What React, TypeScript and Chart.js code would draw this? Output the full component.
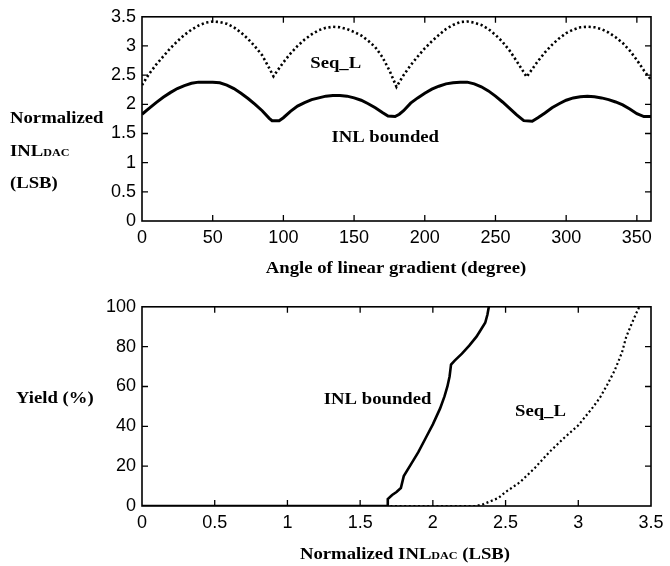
import React, { useEffect, useRef } from "react";
import { Chart, registerables } from "chart.js";

Chart.register(...registerables);

// ---------- Top chart: normalized INL vs angle of linear gradient ----------
const seqLAngles = [
  0, 5, 10, 15, 20, 25, 30, 35, 40, 45, 50, 55, 60, 65, 70, 75, 80, 85, 90, 93,
  95, 100, 105, 110, 115, 120, 125, 130, 135, 140, 145, 150, 155, 160, 165, 170, 175, 180,
  185, 190, 195, 200, 205, 210, 215, 220, 225, 230, 235, 240, 245, 250, 255, 260, 265, 270, 272,
  275, 280, 285, 290, 295, 300, 305, 310, 315, 320, 325, 330, 335, 340, 345, 350, 355, 360,
];
const seqLInl = [
  2.33, 2.52, 2.68, 2.82, 2.96, 3.08, 3.19, 3.28, 3.35, 3.4, 3.42, 3.41, 3.38, 3.32, 3.23, 3.12, 2.99, 2.84, 2.62, 2.48,
  2.55, 2.72, 2.87, 3.0, 3.11, 3.2, 3.27, 3.31, 3.33, 3.32, 3.29, 3.24, 3.18, 3.09, 2.98, 2.81, 2.58, 2.3,
  2.5, 2.67, 2.82, 2.96, 3.08, 3.19, 3.29, 3.36, 3.41, 3.42, 3.4, 3.36, 3.29, 3.19, 3.07, 2.92, 2.74, 2.55, 2.47,
  2.57, 2.74, 2.89, 3.02, 3.13, 3.22, 3.28, 3.32, 3.33, 3.32, 3.29, 3.23, 3.15, 3.05, 2.92, 2.76, 2.58, 2.42,
];
const boundedAngles = [
  0, 5, 10, 15, 20, 25, 30, 35, 40, 45, 50, 55, 60, 65, 70, 75, 80, 85, 90, 92, 97,
  100, 105, 110, 115, 120, 125, 130, 135, 140, 145, 150, 155, 160, 165, 170, 174, 179,
  182, 185, 190, 195, 200, 205, 210, 215, 220, 225, 230, 235, 240, 245, 250, 255, 260, 265, 270, 276,
  280, 285, 290, 295, 300, 305, 310, 315, 320, 325, 330, 335, 340, 345, 350, 355, 360,
];
const boundedInl = [
  1.83, 1.93, 2.03, 2.12, 2.2, 2.27, 2.32, 2.36, 2.38, 2.38, 2.38, 2.37, 2.33, 2.27, 2.19, 2.1, 2.0, 1.89, 1.76, 1.72, 1.72,
  1.77, 1.88, 1.97, 2.03, 2.08, 2.11, 2.14, 2.15, 2.15, 2.14, 2.11, 2.07, 2.01, 1.94, 1.86, 1.8, 1.79,
  1.83, 1.89, 2.02, 2.11, 2.19, 2.26, 2.31, 2.35, 2.37, 2.38, 2.38, 2.35, 2.3, 2.23, 2.14, 2.04, 1.93, 1.82, 1.72, 1.71,
  1.77, 1.85, 1.94, 2.01, 2.07, 2.11, 2.13, 2.14, 2.13, 2.11, 2.08, 2.04, 1.99, 1.92, 1.84, 1.79, 1.79,
];
const angleRange = [0, 360];
const angleStep = 50;
const inlRange = [0, 3.5];
const inlStep = 0.5;

// ---------- Bottom chart: yield vs normalized INL ----------
const boundedYieldInl = [
  0, 1.69, 1.69, 1.72, 1.75, 1.78, 1.8, 1.85, 1.9, 1.95, 2.0, 2.05, 2.08, 2.1, 2.115, 2.125,
  2.15, 2.2, 2.25, 2.3, 2.33, 2.36, 2.375, 2.385,
];
const boundedYield = [
  0, 0, 3.5, 5.5, 7, 9, 15, 21, 27, 34, 41, 49, 55, 60, 65, 71,
  73, 76.5, 80.5, 85, 88.5, 92, 96, 100,
];
const seqLYieldInl = [
  0, 2.3, 2.35, 2.4, 2.45, 2.5, 2.55, 2.6, 2.7, 2.8, 2.9, 3.0, 3.05, 3.1, 3.15, 3.2, 3.25, 3.3, 3.33, 3.37, 3.4, 3.42,
];
const seqLYield = [
  0, 0, 1, 2.5, 4, 7, 9.5, 12, 19, 27, 34, 40.5, 45, 49.5, 54.5, 61, 68, 77, 85, 92, 97, 100,
];
const yieldRange = [0, 100];
const yieldStep = 20;

// ---------- helpers ----------
const SERIF_B = (s: number) => `bold ${s}px 'Liberation Serif', 'Times New Roman', serif`;
const TICK_FONT = { family: "'Liberation Sans', Arial, sans-serif", size: 18 };
const TXT_SX = 1.1;

type Seg = { text: string; font: string };

function drawSegs(ctx: CanvasRenderingContext2D, segs: Seg[], x: number, y: number, align: "left" | "center") {
  ctx.save();
  ctx.fillStyle = "#000";
  ctx.textBaseline = "alphabetic";
  ctx.textAlign = "left";
  let w = 0;
  segs.forEach((s) => {
    ctx.font = s.font;
    w += ctx.measureText(s.text).width;
  });
  const start = align === "center" ? x - (w * TXT_SX) / 2 : x;
  ctx.translate(start, y);
  ctx.scale(TXT_SX, 1);
  let cx = 0;
  segs.forEach((s) => {
    ctx.font = s.font;
    ctx.fillText(s.text, cx, 0);
    cx += ctx.measureText(s.text).width;
  });
  ctx.restore();
}

const framePlugin = {
  id: "frameTicks",
  afterDraw(chart: any) {
    const { ctx, chartArea: a, scales } = chart;
    ctx.save();
    ctx.strokeStyle = "#000";
    ctx.lineWidth = 1.6;
    ctx.strokeRect(a.left, a.top, a.right - a.left, a.bottom - a.top);
    ctx.lineWidth = 1.3;
    const L = 6;
    const xs = scales.x;
    const ys = scales.y;
    ctx.beginPath();
    xs.ticks.forEach((t: any) => {
      if (t.value <= xs.min || t.value >= xs.max) return;
      const px = xs.getPixelForValue(t.value);
      ctx.moveTo(px, a.bottom);
      ctx.lineTo(px, a.bottom - L);
      ctx.moveTo(px, a.top);
      ctx.lineTo(px, a.top + L);
    });
    ys.ticks.forEach((t: any) => {
      if (t.value <= ys.min || t.value >= ys.max) return;
      const py = ys.getPixelForValue(t.value);
      ctx.moveTo(a.left, py);
      ctx.lineTo(a.left + L, py);
      ctx.moveTo(a.right, py);
      ctx.lineTo(a.right - L, py);
    });
    ctx.stroke();
    ctx.restore();
  },
};

const plainNum = (v: any) => String(Number(Number(v).toFixed(6)));

function makeScales(xr: number[], xstep: number, yr: number[], ystep: number, yWidth: number, xHeight: number) {
  return {
    x: {
      type: "linear",
      min: xr[0],
      max: xr[1],
      afterFit: (s: any) => {
        s.height = xHeight;
      },
      afterBuildTicks: (s: any) => {
        s.ticks = s.ticks.filter((t: any) => Math.abs(t.value / xstep - Math.round(t.value / xstep)) < 1e-6);
      },
      ticks: {
        stepSize: xstep,
        font: TICK_FONT,
        color: "#000",
        maxRotation: 0,
        padding: 6,
        includeBounds: false,
        callback: plainNum,
      },
      grid: { display: false, drawTicks: false },
      border: { display: false },
    },
    y: {
      type: "linear",
      min: yr[0],
      max: yr[1],
      afterFit: (s: any) => {
        s.width = yWidth;
      },
      ticks: { stepSize: ystep, font: TICK_FONT, color: "#000", padding: 6, callback: plainNum },
      grid: { display: false, drawTicks: false },
      border: { display: false },
    },
  };
}

const toPts = (xs: number[], ys: number[]) => xs.map((x, i) => ({ x, y: ys[i] }));

export default function App() {
  const topRef = useRef<HTMLCanvasElement>(null);
  const botRef = useRef<HTMLCanvasElement>(null);

  useEffect(() => {
    const topTexts = {
      id: "topTexts",
      afterDraw(chart: any) {
        const { ctx, scales } = chart;
        drawSegs(ctx, [{ text: "Normalized", font: SERIF_B(17) }], 10, 123, "left");
        drawSegs(
          ctx,
          [
            { text: "INL", font: SERIF_B(17) },
            { text: "DAC", font: SERIF_B(11) },
          ],
          10,
          156,
          "left"
        );
        drawSegs(ctx, [{ text: "(LSB)", font: SERIF_B(17) }], 10, 188, "left");
        drawSegs(ctx, [{ text: "Angle of linear gradient (degree)", font: SERIF_B(17) }], 396, 273, "center");
        drawSegs(
          ctx,
          [{ text: "Seq_L", font: SERIF_B(17) }],
          scales.x.getPixelForValue(137),
          scales.y.getPixelForValue(2.72) + 6,
          "center"
        );
        drawSegs(
          ctx,
          [{ text: "INL bounded", font: SERIF_B(17) }],
          scales.x.getPixelForValue(172),
          scales.y.getPixelForValue(1.45) + 6,
          "center"
        );
      },
    };
    const botTexts = {
      id: "botTexts",
      afterDraw(chart: any) {
        const { ctx, scales } = chart;
        drawSegs(ctx, [{ text: "Yield (%)", font: SERIF_B(17) }], 16, 113, "left");
        drawSegs(
          ctx,
          [
            { text: "Normalized INL", font: SERIF_B(17) },
            { text: "DAC", font: SERIF_B(11) },
            { text: " (LSB)", font: SERIF_B(17) },
          ],
          405,
          269,
          "center"
        );
        drawSegs(
          ctx,
          [{ text: "INL bounded", font: SERIF_B(17) }],
          scales.x.getPixelForValue(1.62),
          scales.y.getPixelForValue(54) + 6,
          "center"
        );
        drawSegs(
          ctx,
          [{ text: "Seq_L", font: SERIF_B(17) }],
          scales.x.getPixelForValue(2.74),
          scales.y.getPixelForValue(48) + 6,
          "center"
        );
      },
    };

    const common = {
      animation: false,
      responsive: false,
      devicePixelRatio: 1,
      plugins: { legend: { display: false }, tooltip: { enabled: false }, title: { display: false } },
      elements: { point: { radius: 0 }, line: { tension: 0 } },
    };

    const top = new Chart(topRef.current as HTMLCanvasElement, {
      type: "line",
      data: {
        datasets: [
          {
            label: "Seq_L",
            data: toPts(seqLAngles, seqLInl),
            borderColor: "#000",
            borderWidth: 2.6,
            borderDash: [2.2, 2.6],
            pointRadius: 0,
            fill: false,
          },
          {
            label: "INL bounded",
            data: toPts(boundedAngles, boundedInl),
            borderColor: "#000",
            borderWidth: 3,
            pointRadius: 0,
            fill: false,
          },
        ],
      },
      options: {
        ...common,
        layout: { padding: { top: 12, right: 19, left: 0, bottom: 0 } },
        scales: makeScales(angleRange, angleStep, inlRange, inlStep, 142, 69),
      } as any,
      plugins: [framePlugin, topTexts],
    });

    const bot = new Chart(botRef.current as HTMLCanvasElement, {
      type: "line",
      data: {
        datasets: [
          {
            label: "Seq_L",
            data: toPts(seqLYieldInl, seqLYield),
            borderColor: "#000",
            borderWidth: 2.2,
            borderDash: [2, 2.6],
            pointRadius: 0,
            fill: false,
          },
          {
            label: "INL bounded",
            data: toPts(boundedYieldInl, boundedYield),
            borderColor: "#000",
            borderWidth: 2.6,
            pointRadius: 0,
            fill: false,
          },
        ],
      },
      options: {
        ...common,
        layout: { padding: { top: 10, right: 19, left: 0, bottom: 0 } },
        scales: makeScales(inlRange, inlStep, yieldRange, yieldStep, 142, 60),
      } as any,
      plugins: [framePlugin, botTexts],
    });

    return () => {
      top.destroy();
      bot.destroy();
    };
  }, []);

  return (
    <div style={{ position: "absolute", left: 0, top: 0, width: 670, height: 566, background: "#fff" }}>
      <canvas ref={topRef} width={670} height={290} style={{ position: "absolute", left: 0, top: 0 }} />
      <canvas ref={botRef} width={670} height={276} style={{ position: "absolute", left: 0, top: 290 }} />
    </div>
  );
}
